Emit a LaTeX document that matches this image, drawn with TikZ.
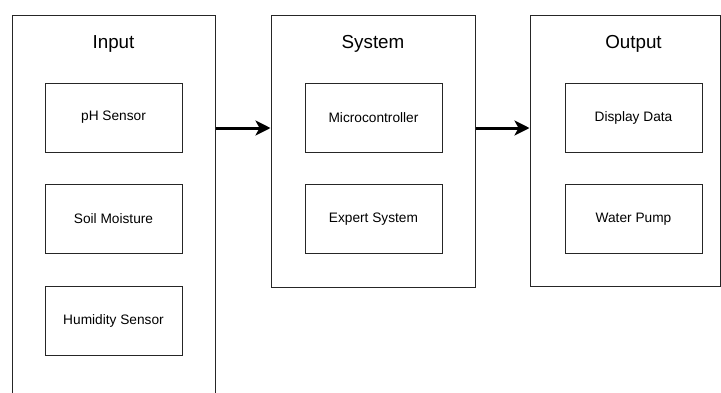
\documentclass[tikz,border=0pt]{standalone}
\usepackage{fontspec}
\setmainfont{Liberation Sans}
\usetikzlibrary{arrows.meta}
\begin{document}
\begin{tikzpicture}[x=1pt,y=-1pt,
  group/.style={draw=black!85,line width=1pt,fill=white,inner sep=0pt},
  item/.style={draw=black!85,line width=1pt,fill=white,minimum width=137pt,minimum height=69pt,inner sep=0pt,font=\fontsize{13.7}{16}\selectfont},
  title/.style={font=\fontsize{18.8}{22}\selectfont,inner sep=0pt},
  flow/.style={line width=3pt,-{Stealth[length=15pt,width=15pt,inset=4pt]}}]
\useasboundingbox[fill=white] (0,0) rectangle (721,392);
\clip (0,0) rectangle (721,392);
% containers
\node[group,minimum width=203pt,minimum height=405pt] (input) at (113.5,217.5) {};
\node[group,minimum width=204pt,minimum height=272pt] (system) at (373,151) {};
\node[group,minimum width=190pt,minimum height=271pt] (output) at (625,150.5) {};
% titles
\node[title] (tin) at (113.5,44) {Input};
\node[title] (tsys) at (373,44) {System};
\node[title] (tout) at (633.5,44) {Output};
% items
\node[item] (ph) at (113.5,117.5) {pH Sensor};
\node[item] (soil) at (113.5,219) {Soil Moisture};
\node[item] (hum) at (113.5,321) {Humidity Sensor};
\node[item] (mcu) at (373.5,117.5) {Microcontroller};
\node[item] (exp) at (373.5,219) {Expert System};
\node[item] (disp) at (633.5,117.5) {Display Data};
\node[item] (pump) at (633.5,219) {Water Pump};
% arrows
\coordinate (lvl) at (0,128);
\draw[flow] (input.east |- lvl) -- (system.west |- lvl);
\draw[flow] (system.east |- lvl) -- (output.west |- lvl);
\end{tikzpicture}
\end{document}
